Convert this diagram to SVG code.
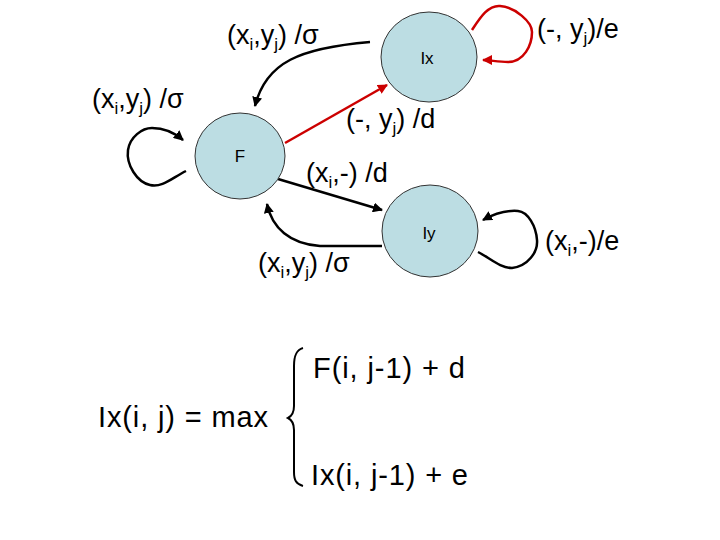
<svg xmlns="http://www.w3.org/2000/svg" width="720" height="540" viewBox="0 0 720 540">
<defs>
<style>
.node{fill:#bcdde3;stroke:#333;stroke-width:1}
.nl{font-family:"Liberation Sans",Arial,sans-serif;font-size:17px;fill:#000;text-anchor:middle}
.lb{font-family:"Liberation Sans",Arial,sans-serif;font-size:27px;fill:#000}
.sub{font-size:17px}
.eq{font-family:"Liberation Sans",Arial,sans-serif;font-size:29px;fill:#000}
.blk{fill:none;stroke:#000;stroke-width:2.5}
.red{fill:none;stroke:#cc0000;stroke-width:2.5}
</style>
<marker id="ab" viewBox="0 0 10 10" refX="9" refY="5" markerWidth="4" markerHeight="4" orient="auto" markerUnits="strokeWidth"><path d="M0,0 L10,5 L0,10 z" fill="#000"/></marker>
<marker id="ar" viewBox="0 0 10 10" refX="9" refY="5" markerWidth="4" markerHeight="4" orient="auto" markerUnits="strokeWidth"><path d="M0,0 L10,5 L0,10 z" fill="#cc0000"/></marker>
</defs>
<rect width="720" height="540" fill="#fff"/>
<g id="connectors">
<path class="blk" d="M370,42 C300,48 266,62 255,106" marker-end="url(#ab)"/>
<path class="red" d="M285,143 L387,85" marker-end="url(#ar)"/>
<path class="red" d="M472,30 C480,18 488,5 500,6 C515,7 532,22 532,32 C532,45 524,62 508,62 C498,62 490,60 483,60" marker-end="url(#ar)"/>
<path class="blk" d="M186,171 C172,178 162,188 150,185 C137,182 126,165 128,150 C130,137 142,128 152,128 C165,128 176,134 183,140" marker-end="url(#ab)"/>
<path class="blk" d="M278,179 L382,210" marker-end="url(#ab)"/>
<path class="blk" d="M382,246 L320,246 C290,244 272,228 267,204" marker-end="url(#ab)"/>
<path class="blk" d="M478,252 C490,258 500,268 512,268 C528,266 538,252 537,240 C536,226 528,212 518,211 C505,210 492,215 483,220" marker-end="url(#ab)"/>
</g>
<g id="node-Ix">
<ellipse class="node" cx="429" cy="57" rx="48" ry="45"/>
<text class="nl" x="427" y="64">Ix</text>
</g>
<g id="node-F">
<ellipse class="node" cx="240" cy="156" rx="45" ry="43"/>
<text class="nl" x="240" y="162">F</text>
</g>
<g id="node-Iy">
<ellipse class="node" cx="430" cy="231" rx="48" ry="46"/>
<text class="nl" x="429" y="239">Iy</text>
</g>
<g id="labels">
<text class="lb" x="227" y="44">(x<tspan class="sub" dy="6">i</tspan><tspan dy="-6">,y</tspan><tspan class="sub" dy="6">j</tspan><tspan dy="-6">) /σ</tspan></text>
<text class="lb" x="92" y="108">(x<tspan class="sub" dy="6">i</tspan><tspan dy="-6">,y</tspan><tspan class="sub" dy="6">j</tspan><tspan dy="-6">) /σ</tspan></text>
<text class="lb" x="346" y="128">(-, y<tspan class="sub" dy="6">j</tspan><tspan dy="-6">) /d</tspan></text>
<text class="lb" x="537" y="38">(-, y<tspan class="sub" dy="6">j</tspan><tspan dy="-6">)/e</tspan></text>
<text class="lb" x="306" y="182">(x<tspan class="sub" dy="6">i</tspan><tspan dy="-6">,-) /d</tspan></text>
<text class="lb" x="258" y="272">(x<tspan class="sub" dy="6">i</tspan><tspan dy="-6">,y</tspan><tspan class="sub" dy="6">j</tspan><tspan dy="-6">) /σ</tspan></text>
<text class="lb" x="545" y="250">(x<tspan class="sub" dy="6">i</tspan><tspan dy="-6">,-)/e</tspan></text>
</g>
<g id="formula">
<text class="eq" x="98" y="427" textLength="170" lengthAdjust="spacing">Ix(i, j) = max</text>
<path d="M303,348 C296,350 294,356 294,366 L294,406 C294,412 292,416 288,418 C292,420 294,424 294,430 L294,472 C294,480 296,484 303,486" fill="none" stroke="#000" stroke-width="2"/>
<text class="eq" x="313" y="378" textLength="152" lengthAdjust="spacing">F(i, j-1) + d</text>
<text class="eq" x="311" y="485" textLength="157" lengthAdjust="spacing">Ix(i, j-1) + e</text>
</g>
</svg>
